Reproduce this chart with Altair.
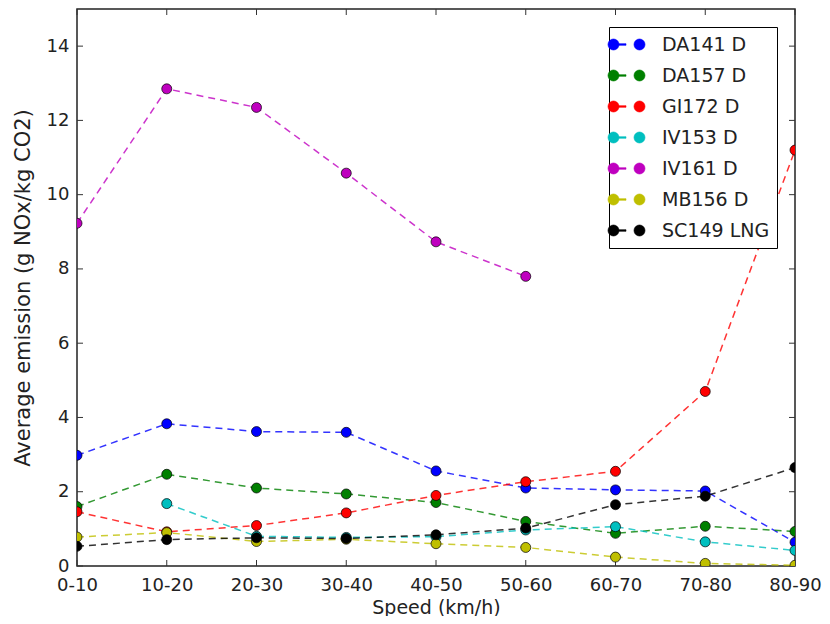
import math
import altair as alt
import pandas as pd

categories = ["0-10", "10-20", "20-30", "30-40", "40-50", "50-60", "60-70", "70-80", "80-90"]
series_names = ["DA141 D", "DA157 D", "GI172 D", "IV153 D", "IV161 D", "MB156 D", "SC149 LNG"]
series_colors = ["#0000ff", "#008000", "#ff0000", "#00bfbf", "#bf00bf", "#bfbf00", "#000000"]

da141 = [2.98, 3.83, 3.62, 3.60, 2.56, 2.10, 2.05, 2.02, 0.64]
da157 = [1.60, 2.47, 2.10, 1.94, 1.71, 1.20, 0.88, 1.07, 0.93]
gi172 = [1.46, 0.92, 1.09, 1.43, 1.90, 2.27, 2.55, 4.70, 11.20]
iv153 = [None, 1.68, 0.80, 0.77, 0.79, 0.97, 1.06, 0.65, 0.42]
iv161 = [9.23, 12.85, 12.35, 10.58, 8.73, 7.80, None, None, None]
mb156 = [0.78, 0.90, 0.66, 0.72, 0.60, 0.50, 0.24, 0.07, 0.02]
sc149 = [0.53, 0.71, 0.76, 0.74, 0.84, 1.02, 1.65, 1.88, 2.65]

y_ticks = [0, 2, 4, 6, 8, 10, 12, 14]

all_values = [da141, da157, gi172, iv153, iv161, mb156, sc149]
rows = []
for name, vals in zip(series_names, all_values):
    for c, v in zip(categories, vals):
        if v is not None:
            rows.append({"speed": c, "series": name, "value": v})
df = pd.DataFrame(rows)

W, H = 718, 557
FONT = "DejaVu Sans"

xscale = alt.Scale(type="point", domain=categories, padding=0)
yscale = alt.Scale(domain=[0, 15], nice=False, zero=True)
cscale = alt.Scale(domain=series_names, range=series_colors)

x_axis = alt.Axis(title="Speed (km/h)", labelAngle=0, ticks=False, domain=False, grid=False,
                  labelFontSize=18, labelPadding=10, titleFontSize=19, titlePadding=4,
                  labelColor="#222", titleColor="#222", titleFontWeight="normal", labelFont=FONT, titleFont=FONT)
y_axis = alt.Axis(title="Average emission (g NOx/kg CO2)", values=y_ticks, ticks=False, domain=False, grid=False,
                  labelFontSize=18, labelPadding=8, titleFontSize=21, titlePadding=13,
                  labelColor="#222", titleColor="#222", titleFontWeight="normal", labelFont=FONT, titleFont=FONT)


def circle_path(cx, r, n=20):
    pts = []
    for i in range(n):
        a = 2 * math.pi * i / n
        pts.append(f"{cx + r * math.cos(a):.3f},{r * math.sin(a):.3f}")
    return "M" + " L".join(pts) + " Z"


# legend glyph: two markers joined by a short dash (symmetric about the centre)
r = 0.55
c1 = -1.3
c2 = 1.3
sym = (circle_path(c1, r) + " " + circle_path(c2, r) + " "
       + f"M{c1:.3f},-0.08 L-0.05,-0.08 L-0.05,0.08 L{c1:.3f},0.08 Z")

legend = alt.Legend(title=None, orient="top-right", offset=18, strokeColor="black", fillColor="white",
                    padding=7, symbolType=sym, symbolSize=400, labelOffset=25, labelFontSize=19,
                    labelFont=FONT, labelColor="#222", rowPadding=10, symbolStrokeColor="black",
                    symbolStrokeWidth=0.6, symbolOpacity=1, cornerRadius=0)

base = alt.Chart(df)
lines = base.mark_line(strokeDash=[7, 5], strokeWidth=1.5, opacity=0.8, clip=True).encode(
    x=alt.X("speed:O", scale=xscale, axis=x_axis),
    y=alt.Y("value:Q", scale=yscale, axis=y_axis),
    color=alt.Color("series:N", scale=cscale, legend=legend),
)
points = base.mark_point(filled=True, size=100, stroke="black", strokeWidth=0.7, opacity=1, clip=True).encode(
    x=alt.X("speed:O", scale=xscale, axis=x_axis),
    y=alt.Y("value:Q", scale=yscale, axis=y_axis),
    color=alt.Color("series:N", scale=cscale, legend=legend),
)

ydf = pd.DataFrame({"v": y_ticks})
xdf = pd.DataFrame({"c": categories})
tick_style = dict(color="#333", strokeWidth=1)
left_ticks = alt.Chart(ydf).mark_rule(**tick_style).encode(
    y=alt.Y("v:Q", scale=yscale, axis=y_axis), x=alt.value(0), x2=alt.value(6))
right_ticks = alt.Chart(ydf).mark_rule(**tick_style).encode(
    y=alt.Y("v:Q", scale=yscale, axis=y_axis), x=alt.value(W - 6), x2=alt.value(W))
bottom_ticks = alt.Chart(xdf).mark_rule(**tick_style).encode(
    x=alt.X("c:O", scale=xscale, axis=x_axis), y=alt.value(H - 6), y2=alt.value(H))
top_ticks = alt.Chart(xdf).mark_rule(**tick_style).encode(
    x=alt.X("c:O", scale=xscale, axis=x_axis), y=alt.value(0), y2=alt.value(6))

chart = alt.layer(left_ticks, right_ticks, bottom_ticks, top_ticks, lines, points).properties(
    width=W, height=H,
    padding={"left": 69, "top": 1, "right": 27, "bottom": 50},
    autosize=alt.AutoSizeParams(type="none"),
    background="white",
).configure_view(stroke="#222", strokeWidth=1.5)

chart.save("out.html", embed_options={"renderer": "svg", "actions": False})
